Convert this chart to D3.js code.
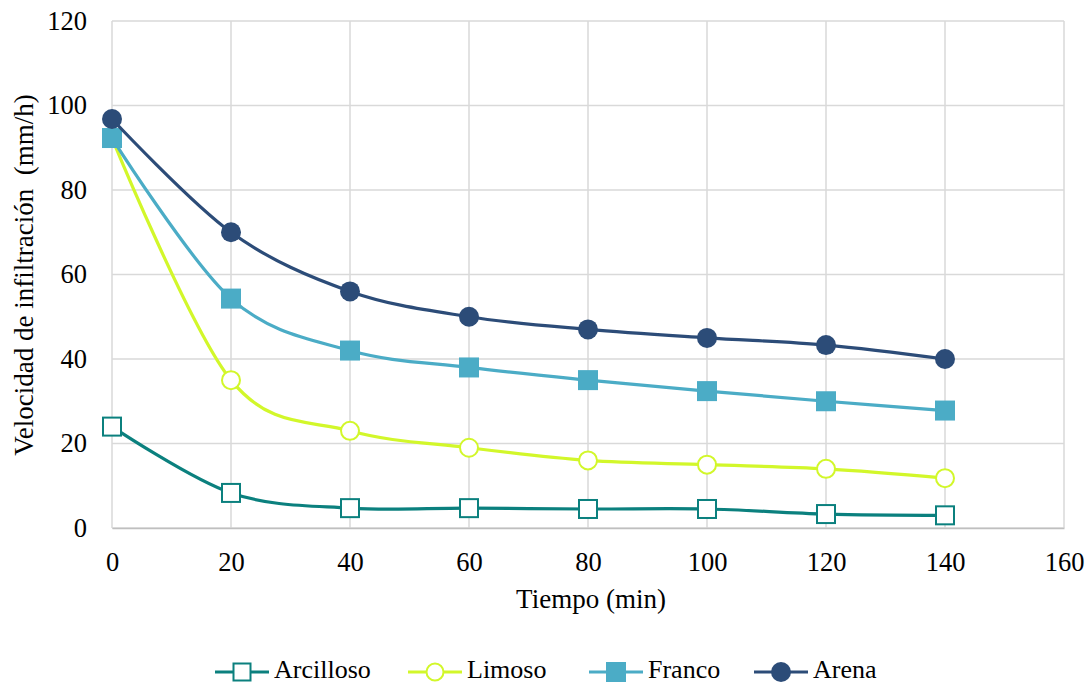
<!DOCTYPE html>
<html><head><meta charset="utf-8">
<script src="https://cdn.jsdelivr.net/npm/d3@7"></script>
<style>body{margin:0;background:#fff}svg{display:block}text{font-family:"Liberation Serif","Times New Roman",serif;fill:#000}</style>
</head><body><svg id="c" width="1091" height="685"></svg>
<script>
const tiempo = [0, 20, 40, 60, 80, 100, 120, 140];
const arcilloso = [24, 8.3, 4.7, 4.7, 4.5, 4.5, 3.3, 3];
const limoso = [92.3, 35, 23, 19, 16, 15, 14, 11.8];
const franco = [92.3, 54.3, 42, 38, 35, 32.4, 30, 27.8];
const arena = [96.8, 70, 56, 50, 47, 45, 43.3, 40];
const xTicks = [0, 20, 40, 60, 80, 100, 120, 140, 160];
const yTicks = [0, 20, 40, 60, 80, 100, 120];
const seriesNames = ["Arcilloso", "Limoso", "Franco", "Arena"];

const FONT = "Liberation Serif";
const series = [
  {name: seriesNames[0], values: arcilloso, color: "#0B807E", marker: "square", filled: false},
  {name: seriesNames[1], values: limoso, color: "#D2F72A", marker: "circle", filled: false},
  {name: seriesNames[2], values: franco, color: "#4BACC6", marker: "square", filled: true},
  {name: seriesNames[3], values: arena, color: "#2C4C78", marker: "circle", filled: true}
];

const svg = d3.select("#c");
const x = d3.scaleLinear().domain([0, 160]).range([112, 1064]);
const y = d3.scaleLinear().domain([0, 120]).range([528, 21]);

// gridlines
const grid = svg.append("g");
grid.selectAll(".gy").data(yTicks).join("line")
  .attr("x1", x(0)).attr("x2", x(160)).attr("y1", d => y(d)).attr("y2", d => y(d))
  .attr("stroke", "#d9d9d9").attr("stroke-width", 1.5);
grid.selectAll(".gx").data(xTicks).join("line")
  .attr("y1", y(0)).attr("y2", y(120)).attr("x1", d => x(d)).attr("x2", d => x(d))
  .attr("stroke", "#d9d9d9").attr("stroke-width", 1.5);

// axes
const xAxis = d3.axisBottom(x).tickValues(xTicks).tickSize(0).tickPadding(24);
const gx = svg.append("g").attr("transform", `translate(0,${y(0)})`).call(xAxis)
  .attr("font-family", FONT).attr("font-size", 26.5);
gx.select(".domain").attr("stroke", "#bfbfbf").attr("stroke-width", 1.5);
gx.selectAll("text").style("font-size", "26.5px").style("font-family", FONT);

const yAxis = d3.axisLeft(y).tickValues(yTicks).tickSize(0).tickPadding(25);
const gy = svg.append("g").attr("transform", `translate(${x(0)},0)`).call(yAxis)
  .attr("font-family", FONT).attr("font-size", 26.5);
gy.select(".domain").remove();
gy.selectAll("text").style("font-size", "26.5px").style("font-family", FONT);

// axis titles
svg.append("text").attr("x", 591).attr("y", 608).attr("text-anchor", "middle")
  .style("font-size", "27px").text("Tiempo (min)");
svg.append("text").attr("transform", `translate(33,275) rotate(-90)`)
  .attr("text-anchor", "middle").style("font-size", "27px")
  .attr("xml:space", "preserve").style("white-space", "pre")
  .text("Velocidad de infiltración  (mm/h)");

const line = d3.line().x((d, i) => x(tiempo[i])).y(d => y(d)).curve(d3.curveCatmullRom.alpha(0));

function drawMarker(g, s, cx, cy, size) {
  if (s.marker === "square") {
    g.append("rect").attr("x", cx - size / 2).attr("y", cy - size / 2)
      .attr("width", size).attr("height", size)
      .attr("fill", s.filled ? s.color : "#fff")
      .attr("stroke", s.color).attr("stroke-width", s.filled ? 0 : 2);
  } else {
    g.append("circle").attr("cx", cx).attr("cy", cy).attr("r", size / 2)
      .attr("fill", s.filled ? s.color : "#fff")
      .attr("stroke", s.color).attr("stroke-width", s.filled ? 0 : 2);
  }
}

series.forEach(s => {
  const g = svg.append("g");
  g.append("path").datum(s.values).attr("d", line)
    .attr("fill", "none").attr("stroke", s.color).attr("stroke-width", 3.2);
  s.values.forEach((v, i) => drawMarker(g, s, x(tiempo[i]), y(v), s.filled ? 20 : 18));
});

// legend
const legendX = [215, 408, 589, 754];
series.forEach((s, i) => {
  const g = svg.append("g");
  const lx = legendX[i], ly = 672;
  g.append("line").attr("x1", lx).attr("x2", lx + 54).attr("y1", ly).attr("y2", ly)
    .attr("stroke", s.color).attr("stroke-width", 3.2);
  drawMarker(g, s, lx + 27, ly, s.filled ? 20 : 17);
  g.append("text").attr("x", lx + 59).attr("y", 678).style("font-size", "26px").text(s.name);
});
</script></body></html>
